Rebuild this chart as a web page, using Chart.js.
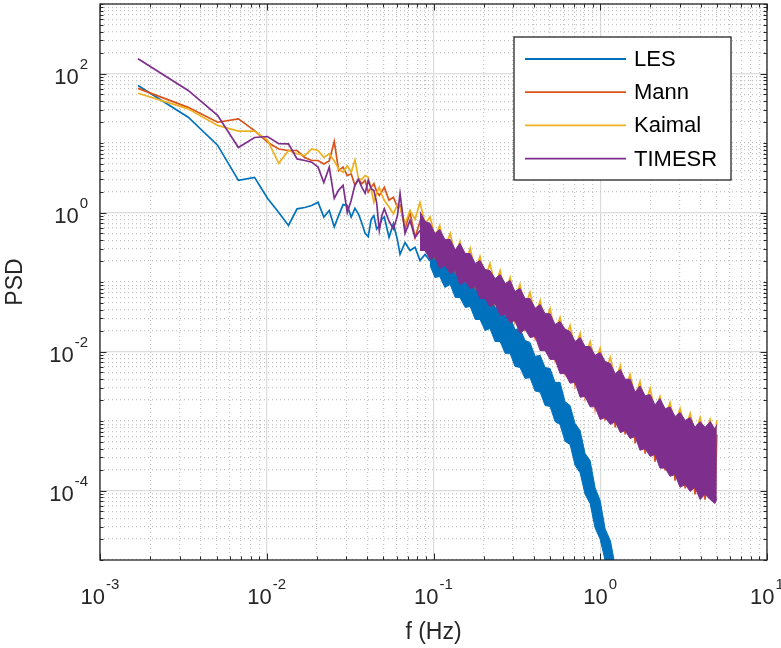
<!DOCTYPE html>
<html>
<head>
<meta charset="utf-8">
<title>PSD</title>
<script src="https://cdn.jsdelivr.net/npm/chart.js@4/dist/chart.umd.min.js"></script>
<style>
  html, body { margin: 0; padding: 0; background: #fff; }
  #wrap { width: 781px; height: 648px; }
</style>
</head>
<body>
<div id="wrap"><canvas id="psdChart" width="781" height="648"></canvas></div>
<script>
// frequencies (Hz): resolved low part, then the dense part
const lineF = [0.00169, 0.00338, 0.00507, 0.00676, 0.00845, 0.0101, 0.0118, 0.0135, 0.0152, 0.0169,
    0.0186, 0.0203, 0.022, 0.0237, 0.0254, 0.027, 0.0287, 0.0304, 0.0321, 0.0338,
    0.0355, 0.0372, 0.0389, 0.0406, 0.0423, 0.0439, 0.0456, 0.0473, 0.049, 0.0507,
    0.0541, 0.0575, 0.0608];
const bandF = [0.063, 0.0675, 0.0723, 0.0775, 0.083, 0.089, 0.0953, 0.102, 0.109, 0.117,
    0.126, 0.135, 0.144, 0.155, 0.166, 0.178, 0.19, 0.204, 0.218, 0.234,
    0.251, 0.269, 0.288, 0.308, 0.33, 0.354, 0.379, 0.407, 0.436, 0.467,
    0.5, 0.536, 0.574, 0.615, 0.659, 0.706, 0.757, 0.811, 0.869, 0.931,
    0.998, 1.07, 1.15, 1.23, 1.32, 1.41, 1.51, 1.62, 1.73, 1.86,
    1.99, 2.13, 2.28, 2.45, 2.62, 2.81, 3.01, 3.23, 3.46, 3.7,
    3.97, 4.25, 4.56, 4.88, 5.0];

// LES
const lesLow = [67, 23.5, 9.3, 2.9, 3.2, 1.6, 1.0, 0.65, 1.13, 1.18,
    1.26, 1.41, 0.86, 1.07, 0.62, 0.91, 1.3, 1.26, 0.86, 1.15,
    0.95, 0.7, 0.5, 0.45, 0.8, 0.9, 0.58, 0.65, 0.8, 0.86,
    0.44, 0.69, 0.4];
const lesMid = [0.25, 0.37, 0.284, 0.317, 0.204, 0.25, 0.2];          // bandF[0..6]
const lesHi = [0.335, 0.241, 0.266, 0.191, 0.204, 0.137, 0.156, 0.116, 0.12, 0.0834,
    0.0891, 0.064, 0.0661, 0.043, 0.0475, 0.0319, 0.0319, 0.0207, 0.0214, 0.0144,
    0.0135, 0.0085, 0.0088, 0.0059, 0.0057, 0.0036, 0.0036, 0.0019, 0.00167, 0.00092,
    0.00073, 0.00034, 0.00027, 0.00011, 0.000072, 0.000028, 0.000019, 0.0000081];   // bandF[6..43]
const lesLo = [0.173, 0.116, 0.12, 0.0834, 0.0921, 0.0599, 0.0599, 0.043, 0.0444, 0.0289,
    0.0289, 0.02, 0.0214, 0.0139, 0.0139, 0.0094, 0.0094, 0.0061, 0.0059, 0.0041,
    0.0042, 0.0027, 0.0026, 0.00167, 0.00162, 0.00098, 0.00089, 0.00051, 0.00046, 0.00023,
    0.00018, 0.000088, 0.000065, 0.000029, 0.00002, 0.0000098, 0.0000078, 0.0000036];

// Mann
const mannLow = [61, 32.6, 19.9, 22.3, 15.1, 10.3, 8.2, 7.8, 7.8, 6.2,
    5.6, 5.6, 5.0, 5.5, 10.5, 4.0, 4.5, 3.4, 3.6, 2.45,
    3.0, 2.6, 2.9, 1.96, 2.3, 2.6, 2.0, 1.76, 2.0, 2.3,
    1.5, 1.66, 1.19];
const mannHigh = [1.26, 0.59, 1.0, 0.437, 0.743, 0.314, 0.516, 0.233, 0.409, 0.184,
    0.314, 0.142, 0.241, 0.105, 0.191, 0.083, 0.146, 0.064, 0.116, 0.049,
    0.092, 0.0365, 0.073, 0.027, 0.058, 0.0215, 0.044, 0.0159, 0.034, 0.0115,
    0.026, 0.0077, 0.0194, 0.0051, 0.0149, 0.0034, 0.0114, 0.0023, 0.0088, 0.00156,
    0.007, 0.00102, 0.0052, 0.00081, 0.004, 0.00064, 0.0029, 0.000475, 0.0023, 0.00034,
    0.00185, 0.00026, 0.00142, 0.000194, 0.00116, 0.000139, 0.00095, 0.000107, 0.00081, 0.000088,
    0.00071, 0.000074, 0.00066, 0.00007, 0.00064];

// Kaimal
const kaimalLow = [52, 31, 17.9, 14.8, 14.8, 11, 5.1, 7.8, 7.0, 6.6,
    8.2, 7.8, 6.2, 7.0, 5.5, 4.25, 3.8, 4.7, 3.8, 5.7,
    3.05, 3.0, 3.4, 3.2, 2.2, 1.4, 1.9, 2.3, 1.8, 1.5,
    1.2, 0.96, 1.3];
const kaimalHigh = [1.19, 0.69, 1.07, 0.8, 1.4, 0.69, 0.86, 0.44, 0.65, 0.303,
    0.5, 0.233, 0.383, 0.185, 0.303, 0.142, 0.233, 0.112, 0.185, 0.089,
    0.146, 0.068, 0.116, 0.056, 0.092, 0.043, 0.0707, 0.033, 0.054, 0.0253,
    0.0416, 0.0188, 0.0309, 0.0144, 0.0237, 0.0111, 0.0182, 0.0085, 0.0139, 0.0067,
    0.0111, 0.005, 0.0082, 0.0038, 0.0063, 0.00284, 0.00467, 0.00218, 0.0037, 0.00173,
    0.00294, 0.00137, 0.00225, 0.00109, 0.00185, 0.00089, 0.00151, 0.00075, 0.00128, 0.00064,
    0.00112, 0.00058, 0.00105, 0.00056, 0.00102];

// TIMESR
const timesrLow = [163, 57, 25, 8.6, 12, 12.4, 9.8, 9.7, 5.9, 5.6,
    5.3, 4.5, 2.7, 4.5, 1.6, 2.1, 2.45, 1.0, 1.5, 2.5,
    3.0, 2.3, 1.9, 2.9, 2.2, 2.07, 1.4, 0.55, 0.9, 1.13,
    0.75, 0.58, 0.9];
const timesrMid = [1.87, 0.5, 0.77, 0.44, 0.55];                        // bandF[0..4]
const timesrHi = [1.03, 0.74, 0.7, 0.5, 0.57, 0.41, 0.41, 0.29, 0.36, 0.257,
    0.257, 0.185, 0.204, 0.151, 0.146, 0.112, 0.128, 0.095, 0.105, 0.073,
    0.081, 0.058, 0.058, 0.042, 0.0475, 0.035, 0.035, 0.0245, 0.027, 0.021,
    0.0194, 0.0139, 0.0159, 0.0118, 0.0118, 0.0088, 0.0097, 0.0072, 0.0067, 0.0048,
    0.0055, 0.004, 0.004, 0.0026, 0.0032, 0.0023, 0.0024, 0.0017, 0.0021, 0.0015,
    0.0016, 0.00116, 0.00133, 0.00102, 0.00112, 0.00081, 0.00098, 0.00081, 0.00098, 0.00076,
    0.00089];                                                            // bandF[4..64]
const timesrLo = [0.284, 0.284, 0.211, 0.233, 0.156, 0.173, 0.133, 0.146, 0.092, 0.102,
    0.081, 0.086, 0.058, 0.058, 0.044, 0.049, 0.033, 0.034, 0.026, 0.028,
    0.018, 0.021, 0.0159, 0.0164, 0.0103, 0.0103, 0.0077, 0.0077, 0.0048, 0.0048,
    0.0035, 0.0036, 0.0022, 0.00225, 0.0016, 0.0016, 0.00105, 0.00112, 0.00089, 0.00098,
    0.00068, 0.00073, 0.00056, 0.0006, 0.00038, 0.0004, 0.00031, 0.00033, 0.00021, 0.00021,
    0.00016, 0.00017, 0.000111, 0.000122, 0.000097, 0.000111, 0.000074, 0.000088, 0.000074, 0.000065,
    0.000077];

const seriesNames = ['LES', 'Mann', 'Kaimal', 'TIMESR'];
const seriesColors = ['#0072BD', '#D95319', '#EDB120', '#7E2F8E'];

// axis decades
const xRange = [-3, 1];
const yRange = [-5, 3];
const xLabelExp = [-3, -2, -1, 0, 1];
const yLabelExp = [-4, -2, 0, 2];

const textColor = '#262626';
const fontFamily = "Helvetica, Arial, 'Liberation Sans', sans-serif";

function pts(fs, vs) {
    return vs.map((v, i) => ({ x: fs[i], y: v }));
}

function logTicks(lo, hi) {
    const out = [];
    for (let e = lo; e < hi; e++) {
        for (let m = 1; m <= 9; m++) out.push(m * Math.pow(10, e));
    }
    out.push(Math.pow(10, hi));
    return out;
}

function decadeOf(v) {
    const e = Math.round(Math.log10(v));
    return Math.abs(v / Math.pow(10, e) - 1) < 1e-6 ? e : null;
}

const xTicks = logTicks(xRange[0], xRange[1]);
const yTicks = logTicks(yRange[0], yRange[1]);

function isLabelled(v, labelExp) {
    const e = decadeOf(v);
    return e !== null && labelExp.includes(e);
}
function gridColor(labelExp) {
    return (c) => (c.tick && !isLabelled(c.tick.value, labelExp)) ? '#c4c4c4' : '#dcdcdc';
}
function gridDash(labelExp) {
    return (c) => (c.tick && !isLabelled(c.tick.value, labelExp)) ? [1, 3] : [];
}

// "10" with a raised exponent, like the matlab tick labels
function drawPow(ctx, e, x, baseY, align) {
    const base = '10', exp = String(e);
    ctx.font = '22px ' + fontFamily;
    const wb = ctx.measureText(base).width;
    ctx.font = '15px ' + fontFamily;
    const we = ctx.measureText(exp).width;
    const total = wb + 1 + we;
    const left = align === 'center' ? x - total / 2 : x - total;
    ctx.textAlign = 'left';
    ctx.textBaseline = 'alphabetic';
    ctx.font = '22px ' + fontFamily;
    ctx.fillText(base, left, baseY);
    ctx.font = '15px ' + fontFamily;
    ctx.fillText(exp, left + wb + 1, baseY - 14.5);
}

// box, inward ticks and tick labels
const axesFrame = {
    id: 'axesFrame',
    afterDatasetsDraw(chart) {
        const { ctx, chartArea: a, scales } = chart;
        ctx.save();
        ctx.strokeStyle = textColor;
        ctx.lineWidth = 1;
        ctx.beginPath();
        xTicks.forEach(v => {
            const len = isLabelled(v, xLabelExp) ? 6.5 : 3.5;
            const px = Math.round(scales.x.getPixelForValue(v)) + 0.5;
            ctx.moveTo(px, a.bottom); ctx.lineTo(px, a.bottom - len);
            ctx.moveTo(px, a.top); ctx.lineTo(px, a.top + len);
        });
        yTicks.forEach(v => {
            const len = isLabelled(v, yLabelExp) ? 6.5 : 3.5;
            const py = Math.round(scales.y.getPixelForValue(v)) + 0.5;
            ctx.moveTo(a.left, py); ctx.lineTo(a.left + len, py);
            ctx.moveTo(a.right, py); ctx.lineTo(a.right - len, py);
        });
        ctx.stroke();
        ctx.lineWidth = 1.3;
        ctx.strokeRect(a.left, a.top, a.right - a.left, a.bottom - a.top);

        ctx.fillStyle = textColor;
        xLabelExp.forEach(e => {
            drawPow(ctx, e, scales.x.getPixelForValue(Math.pow(10, e)), a.bottom + 43.5, 'center');
        });
        yLabelExp.forEach(e => {
            drawPow(ctx, e, a.left - 12, scales.y.getPixelForValue(Math.pow(10, e)) + 10, 'right');
        });
        ctx.restore();
    }
};

// legend box in the upper right corner
const boxLegend = {
    id: 'boxLegend',
    afterDraw(chart) {
        const { ctx, chartArea: a } = chart;
        const right = a.right - 36, top = a.top + 33;
        const w = 217, h = 143, left = right - w;
        ctx.save();
        ctx.fillStyle = '#fff';
        ctx.fillRect(left, top, w, h);
        ctx.strokeStyle = textColor;
        ctx.lineWidth = 1.3;
        ctx.strokeRect(left, top, w, h);
        ctx.font = '22px ' + fontFamily;
        ctx.textBaseline = 'middle';
        ctx.fillStyle = '#000';
        seriesNames.forEach((name, i) => {
            const ry = top + 22 + i * 33.2;
            ctx.strokeStyle = seriesColors[i];
            ctx.lineWidth = 1.8;
            ctx.beginPath();
            ctx.moveTo(left + 11, ry);
            ctx.lineTo(left + 112, ry);
            ctx.stroke();
            ctx.fillText(name, left + 120, ry + 1);
        });
        ctx.restore();
    }
};

function lineSet(label, data, color, order, extra) {
    return Object.assign({
        label: label,
        data: data,
        borderColor: color,
        backgroundColor: color,
        borderWidth: 1.7,
        pointRadius: 0,
        tension: 0,
        fill: false,
        order: order
    }, extra || {});
}

const datasets = [
    lineSet('LES', pts(lineF.concat(bandF.slice(0, 7)), lesLow.concat(lesMid)), seriesColors[0], 4),
    lineSet('LES band', pts(bandF.slice(6, 44), lesHi), seriesColors[0], 4, { fill: '+1', borderWidth: 1 }),
    lineSet('LES band low', pts(bandF.slice(6, 44), lesLo), seriesColors[0], 4, { borderWidth: 1 }),
    lineSet('Mann', pts(lineF.concat(bandF), mannLow.concat(mannHigh)), seriesColors[1], 3),
    lineSet('Kaimal', pts(lineF.concat(bandF), kaimalLow.concat(kaimalHigh)), seriesColors[2], 2),
    lineSet('TIMESR', pts(lineF.concat(bandF.slice(0, 5)), timesrLow.concat(timesrMid)), seriesColors[3], 1),
    lineSet('TIMESR band', pts(bandF.slice(4), timesrHi), seriesColors[3], 1, { fill: '+1', borderWidth: 1 }),
    lineSet('TIMESR band low', pts(bandF.slice(4), timesrLo), seriesColors[3], 1, { borderWidth: 1 })
];

Chart.defaults.font.family = fontFamily;
Chart.defaults.color = textColor;

new Chart(document.getElementById('psdChart'), {
    type: 'line',
    data: { datasets: datasets },
    options: {
        responsive: false,
        animation: false,
        devicePixelRatio: 1,
        layout: { padding: { top: 4, right: 14, left: 0, bottom: 0 } },
        plugins: {
            legend: { display: false },
            tooltip: { enabled: false }
        },
        scales: {
            x: {
                type: 'logarithmic',
                min: 1e-3,
                max: 10,
                afterBuildTicks: (s) => { s.ticks = xTicks.map(v => ({ value: v })); },
                afterFit: (s) => { s.height = 88; s.paddingLeft = 0; s.paddingRight = 0; },
                ticks: { display: false, autoSkip: false },
                grid: { drawTicks: false, color: gridColor(xLabelExp), lineWidth: 1.2 },
                border: { display: false, dash: gridDash(xLabelExp) },
                title: { display: true, text: 'f (Hz)', color: textColor, font: { size: 23 }, padding: { top: 0, bottom: 2 } }
            },
            y: {
                type: 'logarithmic',
                min: 1e-5,
                max: 1e3,
                afterBuildTicks: (s) => { s.ticks = yTicks.map(v => ({ value: v })); },
                afterFit: (s) => { s.width = 100; s.paddingTop = 0; s.paddingBottom = 0; },
                ticks: { display: false, autoSkip: false },
                grid: { drawTicks: false, color: gridColor(yLabelExp), lineWidth: 1.2 },
                border: { display: false, dash: gridDash(yLabelExp) },
                title: { display: true, text: 'PSD', color: textColor, font: { size: 23 }, padding: { top: 2, bottom: 0 } }
            }
        }
    },
    plugins: [axesFrame, boxLegend]
});
</script>
</body>
</html>
